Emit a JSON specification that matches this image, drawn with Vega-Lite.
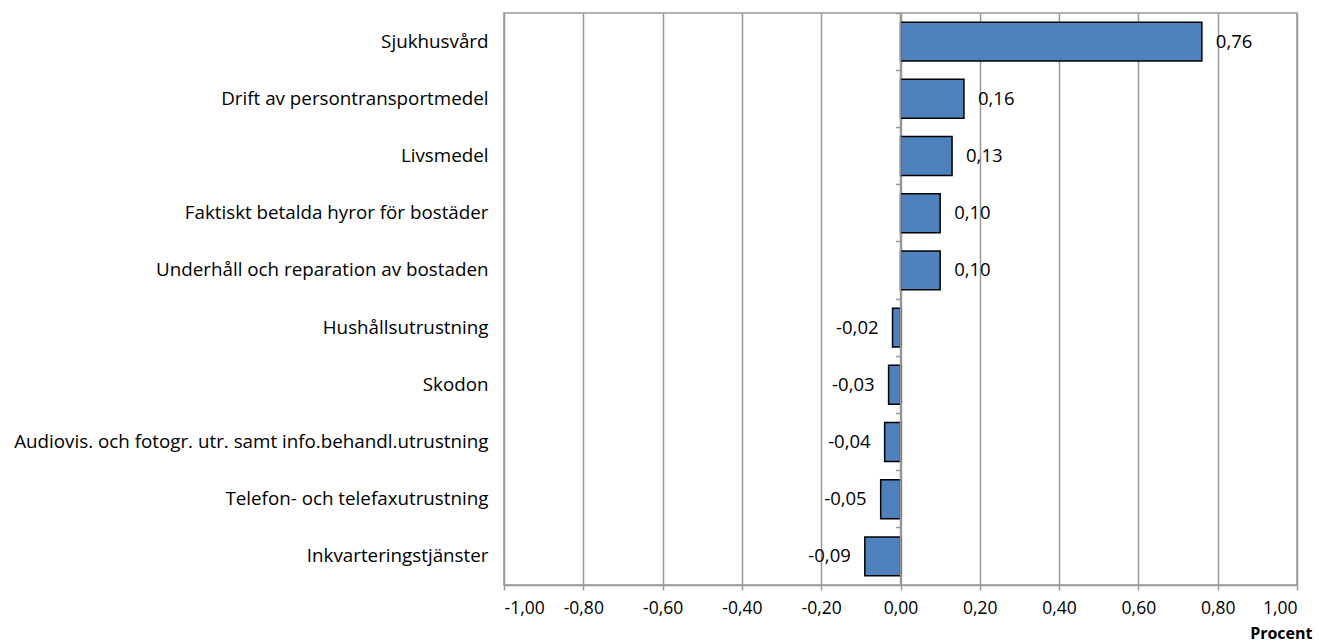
{
  "$schema": "https://vega.github.io/schema/vega-lite/v6.json",
  "autosize": "none",
  "width": 793,
  "height": 572,
  "padding": {"left": 504, "top": 13, "right": 22, "bottom": 58},
  "background": "white",
  "config": {
    "locale": {"number": {"decimal": ",", "thousands": " ", "grouping": [3], "currency": ["", " kr"], "minus": "-"}},
    "font": "Open Sans",
    "view": {"stroke": "#999", "strokeWidth": 1.5}
  },
  "data": {"values": [
    {"kategori": "Sjukhusvård", "v": 0.76},
    {"kategori": "Drift av persontransportmedel", "v": 0.16},
    {"kategori": "Livsmedel", "v": 0.13},
    {"kategori": "Faktiskt betalda hyror för bostäder", "v": 0.10},
    {"kategori": "Underhåll och reparation av bostaden", "v": 0.10},
    {"kategori": "Hushållsutrustning", "v": -0.02},
    {"kategori": "Skodon", "v": -0.03},
    {"kategori": "Audiovis. och fotogr. utr. samt info.behandl.utrustning", "v": -0.04},
    {"kategori": "Telefon- och telefaxutrustning", "v": -0.05},
    {"kategori": "Inkvarteringstjänster", "v": -0.09}
  ]},
  "resolve": {"scale": {"y": "shared"}, "axis": {"y": "independent"}},
  "layer": [
    {
      "mark": {"type": "bar", "fill": "#4F81BD", "stroke": "black", "strokeWidth": 1.5},
      "encoding": {
        "y": {"field": "kategori", "type": "nominal", "sort": null,
          "scale": {"paddingInner": 0.32, "paddingOuter": 0.16},
          "axis": {"title": null, "orient": "left", "domain": false, "ticks": false, "labelFontSize": 18.8, "labelColor": "black", "labelPadding": 16, "labelLimit": 600}},
        "x": {"field": "v", "type": "quantitative",
          "scale": {"domain": [-1, 1], "nice": false, "zero": false},
          "axis": {"values": [-1, -0.8, -0.6, -0.4, -0.2, 0, 0.2, 0.4, 0.6, 0.8, 1], "format": ".2f",
            "grid": true, "gridColor": "#999", "gridWidth": 1.5, "domainColor": "#999", "domainWidth": 1.5,
            "tickColor": "#999", "tickWidth": 1.5, "tickSize": 5, "labelFontSize": 17.5, "labelColor": "black", "labelPadding": 9,
            "title": "Procent", "titleFontSize": 16, "titleFontWeight": "bold", "titleColor": "black",
            "titleAnchor": "end", "titleAlign": "right", "titleX": 808, "titleY": 53, "titleBaseline": "alphabetic"}}
      }
    },
    {
      "mark": {"type": "rule", "color": "#999", "strokeWidth": 1.5},
      "data": {"values": [{"z": 0}]},
      "encoding": {"x": {"field": "z", "type": "quantitative"}}
    },
    {
      "transform": [{"filter": "datum.v >= 0"}],
      "mark": {"type": "text", "align": "left", "dx": 14, "fontSize": 18.5, "color": "black"},
      "encoding": {
        "y": {"field": "kategori", "type": "nominal", "sort": null,
          "axis": {"title": null, "orient": "left", "offset": -396.5, "labels": false, "domain": true, "domainColor": "#999", "domainWidth": 1.5,
            "ticks": true, "tickColor": "#999", "tickWidth": 1.5, "tickSize": 5, "bandPosition": -0.235}},
        "x": {"field": "v", "type": "quantitative"},
        "text": {"field": "v", "type": "quantitative", "format": ".2f"}}
    },
    {
      "transform": [{"filter": "datum.v < 0"}],
      "mark": {"type": "text", "align": "right", "dx": -14, "fontSize": 18.5, "color": "black"},
      "encoding": {
        "y": {"field": "kategori", "type": "nominal", "sort": null, "axis": null},
        "x": {"field": "v", "type": "quantitative"},
        "text": {"field": "v", "type": "quantitative", "format": ".2f"}}
    }
  ]
}
